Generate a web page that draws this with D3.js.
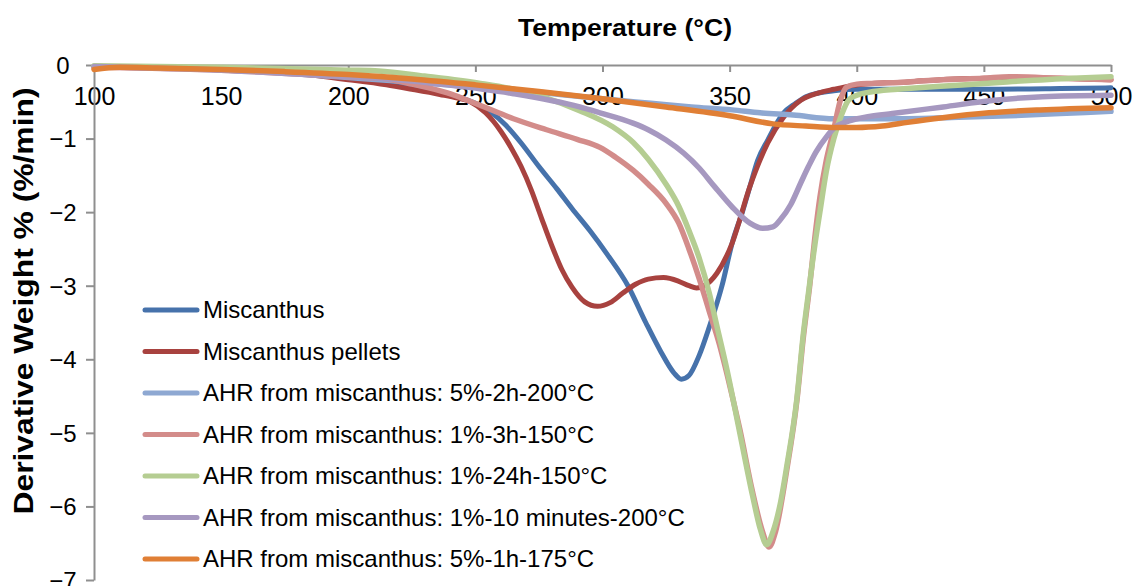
<!DOCTYPE html>
<html>
<head>
<meta charset="utf-8">
<script src="https://cdn.jsdelivr.net/npm/d3@7"></script>
<style>
  html, body { margin: 0; padding: 0; background: #fff; }
  svg { display: block; font-family: "Liberation Sans", Arial, sans-serif; }
</style>
</head>
<body>
<svg id="chart" width="1136" height="586"></svg>
<script>
// DTG curves: [temperature °C, derivative weight %/min]
const miscanthus = [
  [100,-0.02],[125,-0.04],[150,-0.06],[175,-0.1],[200,-0.18],[215,-0.25],[225,-0.3],[240,-0.4],
  [250,-0.52],[256,-0.64],[262,-0.82],[268,-1.06],[275,-1.38],[282,-1.68],[288,-1.95],[295,-2.25],
  [302,-2.58],[310,-3.0],[317,-3.5],[323,-3.9],[328,-4.18],[331,-4.27],[334,-4.22],[338,-3.95],
  [342,-3.56],[347,-3.0],[351,-2.42],[355,-2.0],[358,-1.65],[361,-1.3],[365,-1.02],[371,-0.66],
  [376,-0.52],[380,-0.43],[385,-0.38],[391,-0.35],[400,-0.33],[420,-0.33],[450,-0.33],[480,-0.32],[500,-0.31]
];
const miscanthusPellets = [
  [100,-0.02],[125,-0.04],[150,-0.06],[175,-0.1],[200,-0.2],[215,-0.27],[225,-0.33],[236,-0.4],
  [243,-0.45],[248,-0.5],[254,-0.65],[260,-0.9],[264,-1.12],[268,-1.38],[272,-1.7],[276,-2.08],
  [280,-2.45],[284,-2.78],[288,-3.02],[293,-3.22],[298,-3.28],[303,-3.23],[308,-3.1],[313,-2.98],
  [318,-2.91],[324,-2.89],[330,-2.94],[334,-3.0],[337,-3.03],[340,-3.0],[345,-2.83],[351,-2.42],
  [358,-1.65],[365,-1.06],[371,-0.72],[378,-0.48],[385,-0.38],[391,-0.33],[398,-0.28],[406,-0.25],
  [420,-0.23],[433,-0.2],[450,-0.18],[460,-0.17],[480,-0.18],[500,-0.2]
];
const ahr5pc2h200 = [
  [100,-0.02],[150,-0.06],[200,-0.17],[225,-0.23],[250,-0.3],[275,-0.37],[300,-0.46],[319,-0.52],
  [335,-0.57],[351,-0.61],[362,-0.65],[375,-0.68],[391,-0.73],[400,-0.73],[420,-0.73],[440,-0.71],
  [460,-0.69],[480,-0.66],[500,-0.63]
];
const ahr1pc3h150 = [
  [100,-0.03],[150,-0.07],[200,-0.16],[213,-0.18],[225,-0.26],[239,-0.38],[252,-0.55],[265,-0.73],
  [278,-0.88],[290,-1.01],[299,-1.12],[305,-1.25],[312,-1.43],[318,-1.62],[325,-1.88],[330,-2.15],
  [334,-2.5],[338,-2.9],[342,-3.35],[346,-3.8],[350,-4.35],[354,-4.95],[359,-5.8],[363,-6.35],
  [365.5,-6.55],[368,-6.35],[372.5,-5.5],[376.5,-4.55],[379,-3.7],[381.5,-3.0],[383.5,-2.35],
  [385.5,-1.8],[388,-1.3],[390.8,-0.9],[393.4,-0.5],[396,-0.3],[400,-0.26],[406,-0.25],
  [420,-0.23],[433,-0.2],[450,-0.18],[460,-0.16],[480,-0.18],[500,-0.2]
];
const ahr1pc24h150 = [
  [100,-0.01],[150,-0.03],[200,-0.07],[212,-0.08],[230,-0.15],[252,-0.25],[265,-0.33],[278,-0.45],
  [291,-0.62],[304,-0.84],[312,-1.05],[318,-1.28],[325,-1.62],[330,-1.92],[334,-2.25],[338,-2.62],
  [342,-3.1],[345,-3.55],[349,-4.15],[354,-5.0],[359,-5.85],[362,-6.3],[364.6,-6.52],[367,-6.35],
  [370,-5.95],[372.5,-5.45],[376.4,-4.55],[379,-3.65],[381,-3.1],[383.5,-2.45],[385.5,-2.0],
  [388,-1.45],[391,-1.0],[394,-0.68],[397,-0.47],[402,-0.39],[406.5,-0.36],[420,-0.32],
  [433,-0.29],[459,-0.23],[485,-0.18],[500,-0.16]
];
const ahr1pc10min200 = [
  [100,-0.02],[150,-0.07],[200,-0.16],[212,-0.18],[239,-0.27],[265,-0.39],[291,-0.57],[299,-0.65],
  [312,-0.79],[318,-0.88],[325,-1.02],[332,-1.2],[338,-1.4],[344,-1.65],[351,-1.93],[358,-2.15],
  [363,-2.22],[367,-2.2],[370,-2.1],[374,-1.9],[378,-1.6],[381,-1.38],[384,-1.18],[388,-0.98],
  [391,-0.86],[397,-0.76],[405,-0.7],[414,-0.66],[434,-0.57],[454,-0.48],[473,-0.43],[500,-0.41]
];
const ahr5pc1h175 = [
  [100,-0.06],[110,-0.03],[125,-0.04],[150,-0.06],[175,-0.09],[200,-0.13],[225,-0.19],[250,-0.27],
  [275,-0.36],[300,-0.46],[325,-0.57],[350,-0.69],[367,-0.8],[380,-0.83],[392,-0.85],[400,-0.85],
  [410,-0.83],[420,-0.78],[433,-0.72],[452,-0.65],[472,-0.61],[500,-0.58]
];

const seriesNames = [
  "Miscanthus",
  "Miscanthus pellets",
  "AHR from miscanthus: 5%-2h-200°C",
  "AHR from miscanthus: 1%-3h-150°C",
  "AHR from miscanthus: 1%-24h-150°C",
  "AHR from miscanthus: 1%-10 minutes-200°C",
  "AHR from miscanthus: 5%-1h-175°C"
];
const seriesData = [miscanthus, miscanthusPellets, ahr5pc2h200, ahr1pc3h150, ahr1pc24h150, ahr1pc10min200, ahr5pc1h175];
const seriesColors = ["#4672AB", "#A8423F", "#8EA8D2", "#D38C8A", "#B5CD92", "#A698C0", "#E07F35"];
const seriesWidths = [5, 5, 5.5, 5.5, 5.5, 5.5, 5.5];

const xTicks = [100, 150, 200, 250, 300, 350, 400, 450, 500];
const yTicks = [0, -1, -2, -3, -4, -5, -6, -7];

const svg = d3.select("#chart");
const x = d3.scaleLinear().domain([100, 500]).range([94, 1111]);
const y = d3.scaleLinear().domain([-7, 0]).range([580, 65]);
const axisColor = "#8f8f8f";
const fontFamily = "'Liberation Sans', Arial, sans-serif";

// X axis sits on the zero line, labels below it
const xAxis = svg.append("g").attr("transform", `translate(0,${y(0)})`)
  .call(d3.axisBottom(x).tickValues(xTicks).tickSize(7).tickSizeOuter(0)
    .tickFormat(d3.format("d")));
xAxis.select(".domain").attr("stroke", axisColor).attr("stroke-width", 2);
xAxis.selectAll(".tick line").attr("stroke", axisColor).attr("stroke-width", 2);
xAxis.selectAll(".tick text").attr("font-size", 25).attr("fill", "#000")
  .attr("font-family", fontFamily).attr("y", 40).attr("dy", 0);

// Y axis
const yAxis = svg.append("g").attr("transform", `translate(${x(100)},0)`)
  .call(d3.axisLeft(y).tickValues(yTicks).tickSize(8).tickSizeOuter(0).tickFormat(d3.format("d")));
yAxis.select(".domain").attr("stroke", axisColor).attr("stroke-width", 2);
yAxis.selectAll(".tick line").attr("stroke", axisColor).attr("stroke-width", 2);
yAxis.selectAll(".tick text").attr("font-size", 24).attr("fill", "#000")
  .attr("font-family", fontFamily)
  .attr("text-anchor", "middle").attr("x", 63 - x(100)).attr("dy", "0.35em");

// Curves
const line = d3.line().x(d => x(d[0])).y(d => y(d[1])).curve(d3.curveMonotoneX);
svg.append("g").selectAll("path").data(seriesData).join("path")
  .attr("d", line)
  .attr("fill", "none")
  .attr("stroke", (d, i) => seriesColors[i])
  .attr("stroke-width", (d, i) => seriesWidths[i])
  .attr("stroke-linejoin", "round")
  .attr("stroke-linecap", "round");

// Titles
svg.append("text").attr("x", 625).attr("y", 36).attr("text-anchor", "middle")
  .attr("font-size", 24).attr("font-weight", "bold")
  .attr("textLength", 214).attr("lengthAdjust", "spacingAndGlyphs")
  .text("Temperature (°C)");
svg.append("text").attr("transform", "translate(33,301) rotate(-90)").attr("text-anchor", "middle")
  .attr("font-size", 28).attr("font-weight", "bold")
  .attr("textLength", 427).attr("lengthAdjust", "spacingAndGlyphs")
  .text("Derivative Weight % (%/min)");

// Legend
const legend = svg.append("g").selectAll("g").data(seriesNames).join("g")
  .attr("transform", (d, i) => `translate(0,${310 + i * 41.5})`);
legend.append("line").attr("x1", 145).attr("x2", 197).attr("y1", 0).attr("y2", 0)
  .attr("stroke", (d, i) => seriesColors[i]).attr("stroke-width", 5).attr("stroke-linecap", "round");
legend.append("text").attr("x", 203).attr("dy", "0.35em").attr("font-size", 24).text(d => d);
</script>
</body>
</html>
